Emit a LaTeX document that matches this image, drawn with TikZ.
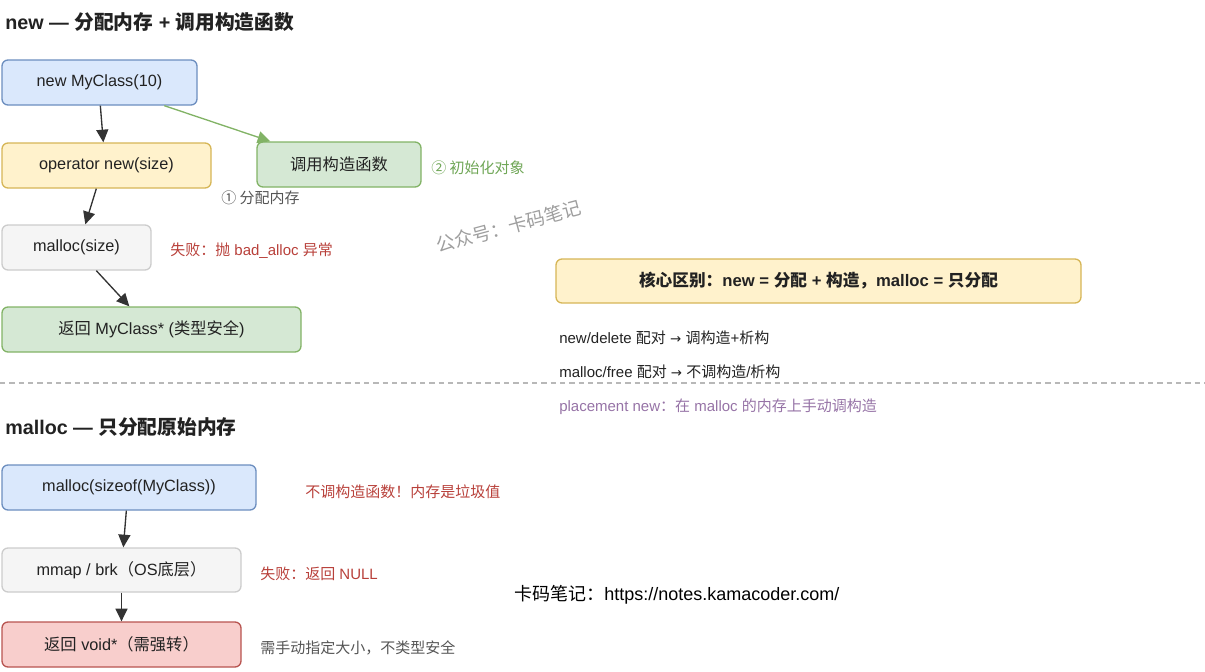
\documentclass[tikz,border=0pt]{standalone}
\usepackage{fontspec}
\setmainfont{Liberation Sans}
\newfontfamily\cjk{Noto Sans CJK SC}
\newfontfamily\symf{DejaVu Sans}
\usetikzlibrary{arrows.meta,calc}
\definecolor{bluefill}{HTML}{DAE8FC}
\definecolor{bluedraw}{HTML}{6C8EBF}
\definecolor{yelfill}{HTML}{FFF2CC}
\definecolor{yeldraw}{HTML}{D6B656}
\definecolor{grnfill}{HTML}{D5E8D4}
\definecolor{grndraw}{HTML}{82B366}
\definecolor{grnText}{HTML}{6FA656}
\definecolor{gryfill}{HTML}{F5F5F5}
\definecolor{grydraw}{HTML}{CCCCCC}
\definecolor{redfill}{HTML}{F8CECC}
\definecolor{reddraw}{HTML}{B85450}
\definecolor{redText}{HTML}{B8403A}
\definecolor{purText}{HTML}{9673A6}
\definecolor{darkText}{HTML}{222222}
\definecolor{midText}{HTML}{555555}
\definecolor{arrowCol}{HTML}{333333}
\newcommand{\zh}[1]{{\cjk #1}}
\newcommand{\rarr}{{\symf\fontsize{10}{11}\selectfont →}}
\begin{document}
\begin{tikzpicture}[x=0.75pt,y=-0.75pt,
  box/.style={draw, line width=1pt, rounded corners=4.5pt, minimum height=33.75pt,
    inner sep=0pt, font=\fontsize{12.2}{14}\selectfont, text=darkText},
  bluebox/.style={box, fill=bluefill, draw=bluedraw},
  yelbox/.style={box, fill=yelfill, draw=yeldraw},
  grnbox/.style={box, fill=grnfill, draw=grndraw},
  grybox/.style={box, fill=gryfill, draw=grydraw},
  redbox/.style={box, fill=redfill, draw=reddraw},
  lbl/.style={anchor=west, inner sep=0pt, font=\fontsize{11.25}{13}\selectfont},
  ttl/.style={anchor=west, inner sep=0pt, font=\fontsize{14.8}{17}\selectfont\bfseries, text=darkText},
  arr/.style={draw=arrowCol, line width=1pt, -{Triangle[length=9.5pt,width=9pt]}},
  garr/.style={draw=grndraw, line width=1pt, -{Triangle[length=9.5pt,width=9pt]}}
]
\useasboundingbox (0,0) rectangle (1205,671);

% titles
\node[ttl] (t1) at (5,22) {new — \zh{\bfseries 分配内存} + \zh{\bfseries 调用构造函数}};
\node[ttl] (t2) at (5,427) {malloc — \zh{\bfseries 只分配原始内存}};

% new part
\node[bluebox, minimum width=146.25pt] (n1) at (99.5,82.5) {new MyClass(10)};
\node[yelbox, minimum width=156.75pt] (n2) at (106.5,165.5) {operator new(size)};
\node[grnbox, minimum width=123pt] (n3) at (339,164.5) {\zh{调用构造函数}};
\node[grybox, minimum width=111.75pt] (n4) at (76.5,247.5) {malloc(size)};
\node[grnbox, minimum width=224.25pt] (n5) at (151.5,329.5) {\zh{返回} MyClass* (\zh{类型安全})};

\draw[arr] ($(n1.south west)+(99,0)$) -- ($(n2.north west)+(102,0)$);
\draw[garr] ($(n1.south west)+(163,0)$) -- ($(n3.north west)+(14,0)$);
\draw[arr] ($(n2.south west)+(95,0)$) -- ($(n4.north west)+(84,0)$);
\draw[arr] ($(n4.south west)+(95,0)$) -- ($(n5.north west)+(128,0)$);

\node[lbl, text=midText] (l1) at (221,198) {\zh{① 分配内存}};
\node[lbl, text=grnText] (l2) at (431,168) {\zh{② 初始化对象}};
\node[lbl, text=redText] (l3) at (170,251) {\zh{失败：抛} bad\_alloc \zh{异常}};

% watermark
\node[inner sep=0pt, rotate=15, text=black!38, font=\fontsize{14}{16}\selectfont] (wm) at (508.5,226.5) {\zh{公众号：卡码笔记}};

% right panel
\node[yelbox, minimum width=393.75pt, minimum height=33pt, font=\fontsize{12.5}{14}\selectfont\bfseries] (core) at (818.5,281)
  {\zh{\bfseries 核心区别：}new = \zh{\bfseries 分配} + \zh{\bfseries 构造，}malloc = \zh{\bfseries 只分配}};
\node[lbl, text=darkText] (r1) at (559,338) {new/delete \zh{配对} \rarr{} \zh{调构造}+\zh{析构}};
\node[lbl, text=darkText] (r2) at (559,372) {malloc/free \zh{配对} \rarr{} \zh{不调构造}/\zh{析构}};
\node[lbl, text=purText] (r3) at (559,407) {placement new\zh{：在} malloc \zh{的内存上手动调构造}};

% separator
\coordinate (sepL) at (0,383);
\coordinate (sepR) at (1205,383);
\draw[draw=black!28, line width=0.8pt, dash pattern=on 4pt off 3pt] (sepL) -- (sepR);

% malloc part
\node[bluebox, minimum width=190.5pt] (m1) at (129,487.5) {malloc(sizeof(MyClass))};
\node[grybox, minimum width=179.25pt, minimum height=33pt] (m2) at (121.5,570) {mmap / brk\zh{（}OS\zh{底层）}};
\node[redbox, minimum width=179.25pt] (m3) at (121.5,644.5) {\zh{返回} void*\zh{（需强转）}};

\draw[arr] ($(m1.south west)+(125,0)$) -- ($(m2.north west)+(122,0)$);
\draw[arr] (m2.south) -- (m3.north);

\node[lbl, text=redText] (k1) at (305,492) {\zh{不调构造函数！内存是垃圾值}};
\node[lbl, text=redText] (k2) at (260,574) {\zh{失败：返回} NULL};
\node[lbl, text=midText] (k3) at (260,648) {\zh{需手动指定大小，不类型安全}};

\node[anchor=west, inner sep=0pt, text=black, font=\fontsize{13.5}{15}\selectfont] (url) at (514,595) {\zh{卡码笔记：}https://notes.kamacoder.com/};
\end{tikzpicture}
\end{document}
